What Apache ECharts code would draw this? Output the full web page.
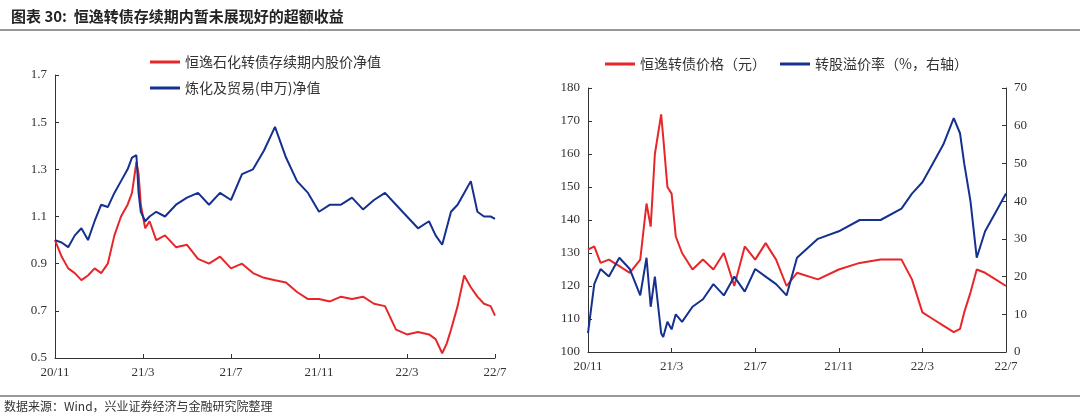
<!DOCTYPE html><html><head><meta charset="utf-8">
<script src="https://cdn.jsdelivr.net/npm/echarts@6/dist/echarts.min.js"></script>
<style>body{margin:0;background:#fff}#c{width:1080px;height:420px}</style></head><body><div id="c"></div>
<script>
// x = months since 2020/11/01
const xTickLabels = ['20/11','21/3','21/7','21/11','22/3','22/7'];
const tStock = [0,0.3,0.6,0.9,1.2,1.5,1.8,2.1,2.4,2.7,3.0,3.3,3.5,3.7,3.8,3.9,4.1,4.3,4.6,5,5.5,6,6.5,7,7.5,8,8.5,9,9.5,10,10.5,11,11.5,12,12.5,13,13.5,14,14.5,15,15.5,16,16.5,17,17.3,17.6,17.8,18,18.3,18.6,18.9,19.2,19.5,19.8,20];
const stockNav = [1.0,0.93,0.88,0.86,0.83,0.85,0.88,0.86,0.9,1.02,1.1,1.15,1.2,1.33,1.28,1.15,1.05,1.08,1.0,1.02,0.97,0.98,0.92,0.9,0.93,0.88,0.9,0.86,0.84,0.83,0.82,0.78,0.75,0.75,0.74,0.76,0.75,0.76,0.73,0.72,0.62,0.6,0.61,0.6,0.58,0.52,0.56,0.62,0.72,0.85,0.8,0.76,0.73,0.72,0.68];
const sectorNav = [1.0,0.99,0.97,1.02,1.05,1.0,1.08,1.15,1.14,1.2,1.25,1.3,1.35,1.36,1.2,1.12,1.08,1.1,1.12,1.1,1.15,1.18,1.2,1.15,1.2,1.17,1.28,1.3,1.38,1.48,1.35,1.25,1.2,1.12,1.15,1.15,1.18,1.13,1.17,1.2,1.15,1.1,1.05,1.08,1.02,0.98,1.05,1.12,1.15,1.2,1.25,1.12,1.1,1.1,1.09];
const tBond = [0,0.3,0.6,1,1.5,2,2.5,2.8,3.0,3.2,3.4,3.5,3.6,3.8,4.0,4.2,4.5,5,5.5,6,6.5,7,7.5,8,8.5,9,9.5,10,11,12,13,14,15,15.5,16,16.5,17,17.5,17.8,18,18.3,18.6,19,19.5,20];
const bondPrice = [131,132,127,128,126,124,128,145,138,160,168,172,165,150,148,135,130,125,128,125,130,120,132,128,133,128,120,124,122,125,127,128,128,122,112,110,108,106,107,112,118,125,124,122,120];
const premium = [5,18,22,20,25,22,15,25,12,20,10,5,4,8,6,10,8,12,14,18,15,20,16,22,20,18,15,25,30,32,35,35,38,42,45,50,55,62,58,50,40,25,32,37,42];
const leftTicks = [0.5,0.7,0.9,1.1,1.3,1.5,1.7];

const ch = echarts.init(document.getElementById('c'));
const font = 'Noto Sans CJK SC';
const red = '#e8262a', blue = '#15318f';
const pair = (t,v)=>t.map((x,i)=>[x,v[i]]);
const xAxis = (gi)=>({type:'value',gridIndex:gi,min:0,max:20,interval:4,
  axisLine:{lineStyle:{color:'#333'}},axisTick:{show:true,inside:true,length:4,lineStyle:{color:'#333'}},
  splitLine:{show:false},axisLabel:{color:'#333',fontSize:13,fontFamily:'Times New Roman, Liberation Serif',formatter:v=>xTickLabels[v/4]}});
const yStyle = {axisLine:{show:true,lineStyle:{color:'#333'}},axisTick:{show:true,inside:true,length:4,lineStyle:{color:'#333'}},splitLine:{show:false},
  axisLabel:{color:'#333',fontSize:13,fontFamily:'Liberation Serif'}};
ch.setOption({
  animation:false,
  title:{text:'图表 30:  恒逸转债存续期内暂未展现好的超额收益',left:6,top:4,textStyle:{fontFamily:font,fontSize:15,fontWeight:'bold',color:'#222'}},
  graphic:[
    {type:'line',shape:{x1:0,y1:30,x2:1080,y2:30},style:{stroke:'#333',lineWidth:1}},
    {type:'line',shape:{x1:0,y1:396,x2:1080,y2:396},style:{stroke:'#333',lineWidth:1}},
    {type:'text',left:4,top:400,style:{text:'数据来源：Wind，兴业证券经济与金融研究院整理',font:'12px "Noto Sans CJK SC"',fill:'#333'}}
  ],
  legend:[
    {data:[{name:'恒逸石化转债存续期内股价净值'},{name:'炼化及贸易(申万)净值'}],orient:'vertical',left:145,top:50,itemGap:12,itemWidth:30,itemHeight:3,icon:'rect',
      textStyle:{fontFamily:font,fontSize:14,color:'#333'}},
    {data:[{name:'恒逸转债价格（元）'},{name:'转股溢价率（%，右轴）'}],left:600,top:52,itemGap:14,itemWidth:30,itemHeight:3,icon:'rect',
      textStyle:{fontFamily:font,fontSize:14,color:'#333'}}
  ],
  grid:[{left:55,top:75,width:440,height:283},{left:588,top:88,width:418,height:264}],
  xAxis:[xAxis(0),xAxis(1)],
  yAxis:[
    Object.assign({type:'value',gridIndex:0,min:0.5,max:1.7,interval:0.2,axisLabel:Object.assign({},yStyle.axisLabel,{formatter:v=>v.toFixed(1)})},yStyle),
    Object.assign({type:'value',gridIndex:1,min:100,max:180,interval:10},yStyle),
    Object.assign({type:'value',gridIndex:1,min:0,max:70,interval:10,position:'right'},yStyle)
  ],
  series:[
    {name:'恒逸石化转债存续期内股价净值',type:'line',xAxisIndex:0,yAxisIndex:0,data:pair(tStock,stockNav),showSymbol:false,lineStyle:{color:red,width:2},itemStyle:{color:red}},
    {name:'炼化及贸易(申万)净值',type:'line',xAxisIndex:0,yAxisIndex:0,data:pair(tStock,sectorNav),showSymbol:false,lineStyle:{color:blue,width:2},itemStyle:{color:blue}},
    {name:'恒逸转债价格（元）',type:'line',xAxisIndex:1,yAxisIndex:1,data:pair(tBond,bondPrice),showSymbol:false,lineStyle:{color:red,width:2},itemStyle:{color:red}},
    {name:'转股溢价率（%，右轴）',type:'line',xAxisIndex:1,yAxisIndex:2,data:pair(tBond,premium),showSymbol:false,lineStyle:{color:blue,width:2},itemStyle:{color:blue}}
  ]
});
</script></body></html>
